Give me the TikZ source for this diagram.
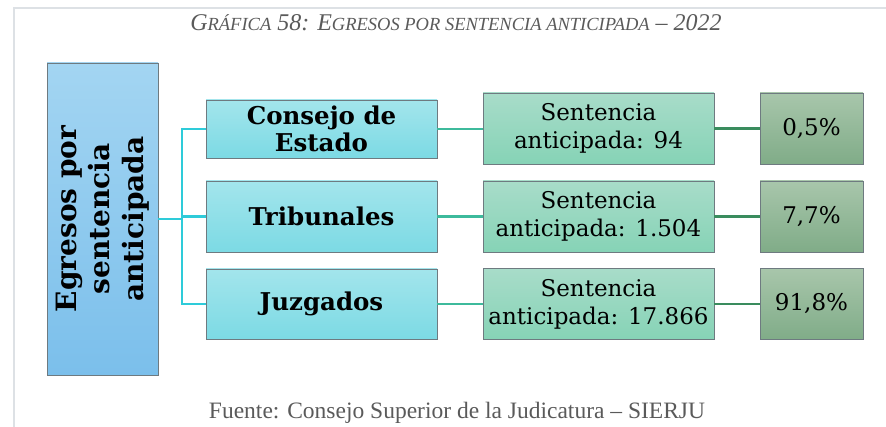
\documentclass[tikz,border=0pt]{standalone}
\usepackage{fontspec}
\setmainfont{DejaVu Serif}
\newfontfamily\capfont{Liberation Serif}
\definecolor{mainTop}{HTML}{A3D5F2}\definecolor{mainBot}{HTML}{7BBFEB}
\definecolor{cyanTop}{HTML}{A3E5EC}\definecolor{cyanBot}{HTML}{7CDAE4}
\definecolor{tealTop}{HTML}{A8DCC9}\definecolor{tealBot}{HTML}{86D3B6}
\definecolor{olivTop}{HTML}{A8C6AB}\definecolor{olivBot}{HTML}{80AC88}
\definecolor{cyanLine}{HTML}{2ECBD9}\definecolor{tealLine}{HTML}{3DBA9C}
\definecolor{greenLine}{HTML}{3A8C5E}\definecolor{boxLine}{HTML}{6E7A80}
\definecolor{frameLine}{HTML}{DDE1E5}\definecolor{capGray}{HTML}{5A5A5A}
\newcommand{\fakesc}[2]{#1{\fontsize{18.5}{18.5}\selectfont #2}}
\tikzset{
  box/.style={draw=boxLine, line width=0.9pt, align=center, inner sep=2pt},
  orgbox/.style={box, top color=cyanTop, bottom color=cyanBot, minimum width=231pt,
    inner ysep=0pt, font=\bfseries\fontsize{24.5}{27}\selectfont},
  numbox/.style={box, top color=tealTop, bottom color=tealBot, minimum width=231pt,
    minimum height=71pt, font=\fontsize{23}{28}\selectfont},
  pctbox/.style={box, top color=olivTop, bottom color=olivBot, minimum width=103pt,
    minimum height=71pt, font=\fontsize{23}{28}\selectfont},
  link/.style={line width=2.6pt}
}
\begin{document}
\begin{tikzpicture}[x=1pt,y=-1pt]
  \useasboundingbox (0,0) rectangle (886,427);
  \draw[frameLine, line width=2pt] (13.5,427) -- (13.5,8.5) -- (886,8.5);
  \node[capGray, font=\capfont\itshape\fontsize{24}{24}\selectfont] (title) at (456,23)
    {\fakesc{G}{RÁFICA} 58: \fakesc{E}{GRESOS POR SENTENCIA ANTICIPADA} – 2022};
  % main box (rotated: south is the right side)
  \node[box, rotate=90, top color=mainTop, bottom color=mainBot, minimum width=312pt,
    minimum height=111pt, font=\bfseries\fontsize{28}{33.5}\selectfont] (main) at (102.5,219)
    {Egresos por\\sentencia\\anticipada};
  \coordinate (jn) at (182,219);
  \draw[link, cyanLine] (main.south) -- (jn);
  \foreach \i/\y/\ya/\h/\org/\num/\pct in {
      1/129/128.5/58/{Consejo de\\Estado}/94/{0,5\%},
      2/216.5/216.5/71/{Tribunales}/{1.504}/{7,7\%},
      3/304/304/70/{Juzgados}/{17.866}/{91,8\%}}{
    \node[orgbox, minimum height=\h pt] (org\i) at (321.5,\y) {\org};
    \node[numbox] (num\i) at (598.5,\ya) {Sentencia\\anticipada: \num};
    \node[pctbox] (pct\i) at (811.5,\ya) {\pct};
    \draw[link, cyanLine] (jn) |- (org\i.west);
    \draw[link, tealLine] (org\i.east) -- (num\i.west |- org\i.east);
    \draw[link, greenLine] (num\i) -- (pct\i);
  }
  \node[capGray, font=\capfont\fontsize{23.5}{23.5}\selectfont] (src) at (457,413)
    {Fuente: Consejo Superior de la Judicatura – SIERJU};
\end{tikzpicture}
\end{document}
